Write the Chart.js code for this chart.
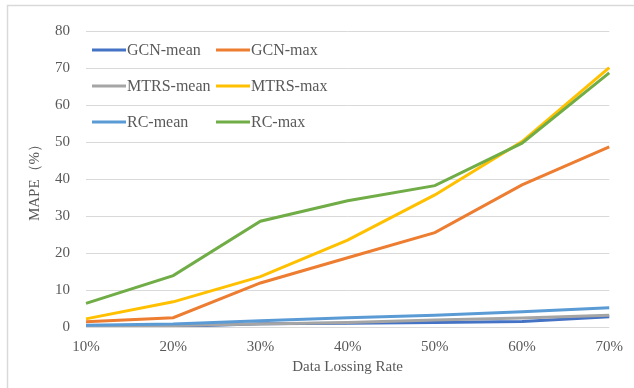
<!DOCTYPE html>
<html>
<head>
<meta charset="utf-8">
<script src="https://cdn.jsdelivr.net/npm/chart.js@4/dist/chart.umd.min.js"></script>
<style>
  html, body { margin: 0; padding: 0; background: #fff; }
  #wrap { width: 634px; height: 388px; position: relative; }
</style>
</head>
<body>
<div id="wrap"><canvas id="c" width="634" height="388"></canvas></div>
<script>
// Missing-data rates on the x axis
const categories = ['10%', '20%', '30%', '40%', '50%', '60%', '70%'];

// MAPE (%) for each method
const gcnMean  = [0.1, 0.1, 0.9, 1.0, 1.2, 1.5, 2.8];
const gcnMax   = [1.4, 2.5, 11.9, 18.7, 25.5, 38.4, 48.7];
const mtrsMean = [0.3, 0.4, 0.8, 1.2, 1.9, 2.4, 3.2];
const mtrsMax  = [2.2, 6.8, 13.6, 23.5, 35.7, 50.1, 70.1];
const rcMean   = [0.5, 0.8, 1.7, 2.5, 3.2, 4.1, 5.2];
const rcMax    = [6.4, 13.9, 28.6, 34.1, 38.2, 49.7, 68.7];

const yTicks = [0, 10, 20, 30, 40, 50, 60, 70, 80];

const seriesNames  = ['GCN-mean', 'GCN-max', 'MTRS-mean', 'MTRS-max', 'RC-mean', 'RC-max'];
const seriesValues = [gcnMean, gcnMax, mtrsMean, mtrsMax, rcMean, rcMax];
const seriesColors = ['#4472C4', '#ED7D31', '#A5A5A5', '#FFC000', '#5B9BD5', '#70AD47'];

const FONT = "'Liberation Serif', 'Times New Roman', serif";
const TEXT = '#595959';

// Outer chart frame
const framePlugin = {
  id: 'frame',
  beforeDraw(chart) {
    const ctx = chart.ctx;
    ctx.save();
    ctx.fillStyle = '#fff';
    ctx.fillRect(0, 0, chart.width, chart.height);
    ctx.strokeStyle = '#d9d9d9';
    ctx.lineWidth = 1.5;
    ctx.strokeRect(7.5, 5.5, 700, 500);
    ctx.restore();
  }
};

// Two-column legend inside the plot area
const legendPlugin = {
  id: 'gridLegend',
  afterDraw(chart) {
    const ctx = chart.ctx;
    const a = chart.chartArea;
    const colX = [a.left + 6, a.left + 130];
    const rowY = [a.top + 19, a.top + 55, a.top + 91];
    ctx.save();
    ctx.font = '16px ' + FONT;
    ctx.textBaseline = 'middle';
    ctx.textAlign = 'left';
    chart.data.datasets.forEach((ds, i) => {
      const x = colX[i % 2];
      const y = rowY[Math.floor(i / 2)];
      ctx.strokeStyle = ds.borderColor;
      ctx.lineWidth = 3;
      ctx.lineCap = 'butt';
      ctx.beginPath();
      ctx.moveTo(x, y);
      ctx.lineTo(x + 34, y);
      ctx.stroke();
      ctx.fillStyle = TEXT;
      ctx.fillText(ds.label, x + 35, y + 1);
    });
    ctx.restore();
  }
};

new Chart(document.getElementById('c'), {
  type: 'line',
  data: {
    labels: categories,
    datasets: seriesNames.map((name, i) => ({
      label: name,
      data: seriesValues[i],
      borderColor: seriesColors[i],
      backgroundColor: seriesColors[i],
      borderWidth: 3,
      pointRadius: 0,
      tension: 0,
      order: seriesNames.length - i
    }))
  },
  options: {
    responsive: false,
    animation: false,
    devicePixelRatio: 1,
    layout: { padding: { left: 22, right: 18, top: 31, bottom: 9 } },
    plugins: {
      legend: { display: false },
      tooltip: { enabled: false }
    },
    scales: {
      x: {
        type: 'category',
        offset: false,
        grid: { display: false, drawTicks: false },
        border: { display: false },
        ticks: { color: TEXT, font: { family: FONT, size: 15 }, padding: 11, maxRotation: 0 },
        title: {
          display: true,
          text: 'Data Lossing Rate',
          color: TEXT,
          font: { family: FONT, size: 15 },
          padding: { top: 2, bottom: 3 }
        },
        afterFit(scale) { scale.height = 52; }
      },
      y: {
        min: 0,
        max: 80,
        afterBuildTicks(scale) { scale.ticks = yTicks.map(v => ({ value: v })); },
        grid: { color: '#d9d9d9', lineWidth: 1, drawTicks: false },
        border: { display: false },
        ticks: { color: TEXT, font: { family: FONT, size: 15 }, padding: 16 },
        title: {
          display: true,
          text: 'MAPE（%）',
          color: TEXT,
          font: { family: FONT, size: 15 },
          padding: { top: 4, bottom: 0 }
        },
        afterFit(scale) { scale.width = 64; }
      }
    }
  },
  plugins: [framePlugin, legendPlugin]
});
</script>
</body>
</html>
